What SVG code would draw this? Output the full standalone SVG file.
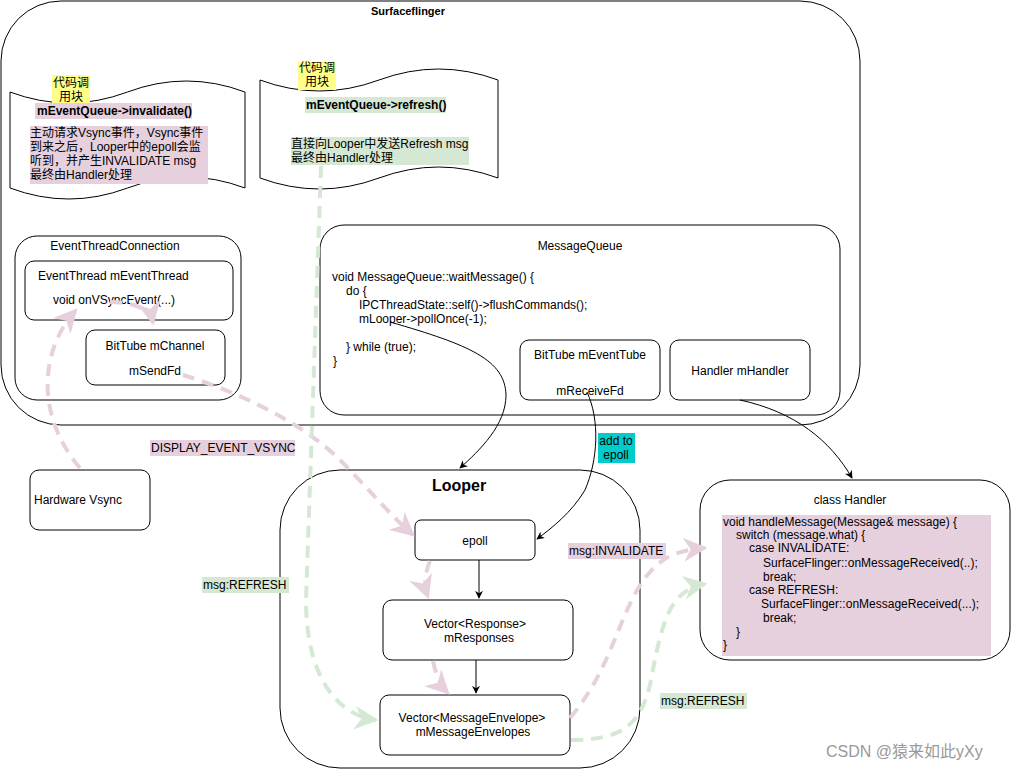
<svg xmlns="http://www.w3.org/2000/svg" width="1021" height="771" viewBox="0 0 1021 771">
<defs>
<style>
text{font-family:"Liberation Sans","Noto Sans CJK SC",sans-serif;font-size:12px;fill:#000}
.b{font-weight:bold}
.c{text-anchor:middle}
.box{fill:#fff;stroke:#000;stroke-width:1}
.cont{fill:none;stroke:#000;stroke-width:1}
.ln{fill:none;stroke:#000;stroke-width:1}
.pk{fill:none;stroke:#E6D0DE;stroke-width:4;stroke-dasharray:12 8}
.gr{fill:none;stroke:#D5E8D4;stroke-width:4;stroke-dasharray:12 8}
.pkbg{fill:#E6D0DE}
.grbg{fill:#D5E8D4}
.yb{fill:#FFFF88}
</style>
<marker id="ab" viewBox="0 0 10 10" refX="9" refY="5" markerWidth="8" markerHeight="8" orient="auto" markerUnits="userSpaceOnUse"><path d="M0,0 L10,5 L0,10 L3,5 Z" fill="#000"/></marker>
<marker id="ap" viewBox="0 0 10 10" refX="9" refY="5" markerWidth="6" markerHeight="6" orient="auto"><path d="M0,0 L10,5 L0,10 L3,5 Z" fill="#E6D0DE"/></marker>
<marker id="ag" viewBox="0 0 10 10" refX="9" refY="5" markerWidth="6" markerHeight="6" orient="auto"><path d="M0,0 L10,5 L0,10 L3,5 Z" fill="#D5E8D4"/></marker>
</defs>
<rect width="1021" height="771" fill="#fff"/>

<g id="surfaceflinger">
<rect class="cont" x="1" y="1" width="859" height="424" rx="60" ry="60"/>
<text class="c b" x="408" y="15" style="font-size:11px">Surfaceflinger</text>
</g>

<g id="tape-invalidate">
<path class="box" d="M10,92 Q68.75,114 127.5,92 Q186.25,70 245,92 L245,188 Q186.25,166 127.5,188 Q68.75,210 10,188 Z"/>
<rect class="yb" x="52" y="75" width="38" height="29"/>
<text class="c" x="71" y="87">代码调</text>
<text class="c" x="71" y="101">用块</text>
<rect class="pkbg" x="35" y="103" width="157" height="16"/>
<text class="b" x="37" y="115">mEventQueue-&gt;invalidate()</text>
<rect class="pkbg" x="30" y="126" width="178" height="58"/>
<text x="30" y="137">主动请求Vsync事件，Vsync事件</text>
<text x="30" y="151">到来之后，Looper中的epoll会监</text>
<text x="30" y="165">听到，并产生INVALIDATE msg</text>
<text x="30" y="179">最终由Handler处理</text>
</g>

<g id="tape-refresh">
<path class="box" d="M260,80 Q319.5,102 379,80 Q438.5,58 498,80 L498,178 Q438.5,156 379,178 Q319.5,200 260,178 Z"/>
<rect class="yb" x="298" y="62" width="38" height="28"/>
<text class="c" x="317" y="72">代码调</text>
<text class="c" x="317" y="86">用块</text>
<rect class="grbg" x="305" y="97" width="141" height="16"/>
<text class="b" x="306" y="109">mEventQueue-&gt;refresh()</text>
<rect class="grbg" x="291" y="137" width="178" height="28"/>
<text x="291" y="148">直接向Looper中发送Refresh msg</text>
<text x="291" y="162">最终由Handler处理</text>
</g>

<g id="eventthreadconnection">
<rect class="box" x="15" y="236" width="226" height="164" rx="22" ry="22"/>
<text class="c" x="115" y="250">EventThreadConnection</text>
</g>
<g id="eventthread">
<rect class="box" x="25" y="261" width="208" height="59" rx="9" ry="9"/>
<text x="38" y="280">EventThread mEventThread</text>
<text x="53" y="304">void onVSyncEvent(...)</text>
</g>
<g id="mchannel">
<rect class="box" x="86" y="330" width="139" height="55" rx="9" ry="9"/>
<text class="c" x="155" y="350">BitTube mChannel</text>
<text class="c" x="155" y="375">mSendFd</text>
</g>

<g id="messagequeue">
<rect class="box" x="320" y="225" width="520" height="190" rx="24" ry="24"/>
<text class="c" x="580" y="250">MessageQueue</text>
<text x="332" y="281">void MessageQueue::waitMessage() {</text>
<text x="346" y="295">do {</text>
<text x="359" y="309">IPCThreadState::self()-&gt;flushCommands();</text>
<text x="359" y="323">mLooper-&gt;pollOnce(-1);</text>
<text x="346" y="351">} while (true);</text>
<text x="333" y="365">}</text>
</g>
<g id="meventtube">
<rect class="box" x="520" y="340" width="140" height="60" rx="9" ry="9"/>
<text class="c" x="590" y="359">BitTube mEventTube</text>
<text class="c" x="590" y="395">mReceiveFd</text>
</g>
<g id="mhandler">
<rect class="box" x="670" y="340" width="140" height="60" rx="9" ry="9"/>
<text class="c" x="740" y="375">Handler mHandler</text>
</g>

<g id="hardware-vsync">
<rect class="box" x="30" y="470" width="120" height="60" rx="9" ry="9"/>
<text x="34" y="504">Hardware Vsync</text>
</g>

<g id="looper">
<rect class="cont" x="280" y="470" width="360" height="298" rx="60" ry="60"/>
<text class="c b" x="459" y="491" style="font-size:16px">Looper</text>
</g>
<g id="epoll">
<rect class="box" x="415" y="520" width="120" height="40" rx="6" ry="6"/>
<text class="c" x="475" y="545">epoll</text>
</g>
<g id="mresponses">
<rect class="box" x="383" y="600" width="190" height="60" rx="9" ry="9"/>
<text class="c" x="475" y="628">Vector&lt;Response&gt;</text>
<text class="c" x="479" y="642">mResponses</text>
</g>
<g id="mmessageenvelopes">
<rect class="box" x="380" y="695" width="190" height="60" rx="9" ry="9"/>
<text class="c" x="472" y="722">Vector&lt;MessageEnvelope&gt;</text>
<text class="c" x="473" y="736">mMessageEnvelopes</text>
</g>

<g id="class-handler">
<rect class="box" x="700" y="480" width="310" height="180" rx="30" ry="30"/>
<text class="c" x="850" y="504">class Handler</text>
<rect class="pkbg" x="722" y="515" width="269" height="141"/>
<text x="723" y="526">void handleMessage(Message&amp; message) {</text>
<text x="736" y="539">switch (message.what) {</text>
<text x="749" y="552">case INVALIDATE:</text>
<text x="763" y="567">SurfaceFlinger::onMessageReceived(..);</text>
<text x="763" y="581">break;</text>
<text x="749" y="594">case REFRESH:</text>
<text x="761" y="608">SurfaceFlinger::onMessageReceived(...);</text>
<text x="763" y="622">break;</text>
<text x="736" y="636">}</text>
<text x="723" y="649">}</text>
</g>

<g id="connectors">
<path class="ln" marker-end="url(#ab)" d="M390,322 C470,345 505,360 506,395 C506,425 480,450 460,468"/>
<path class="ln" marker-end="url(#ab)" d="M587,392 C600,420 598,460 585,490 C572,512 552,528 537,539"/>
<path class="ln" marker-end="url(#ab)" d="M740,400 C795,412 830,440 852,478"/>
<path class="ln" marker-end="url(#ab)" d="M479,560 L479,598"/>
<path class="ln" marker-end="url(#ab)" d="M476,660 L476,693"/>

<path class="pk" marker-end="url(#ap)" d="M80,468 C35,415 40,350 76,310"/>
<path class="pk" marker-end="url(#ap)" d="M110,302 C132,302 150,308 153,323"/>
<path class="pk" marker-end="url(#ap)" d="M183,375 C232,390 300,420 340,460 C370,490 390,515 413,535"/>
<path class="pk" marker-end="url(#ap)" d="M430,561 C424,575 424,586 428,597"/>
<path class="pk" marker-end="url(#ap)" d="M433,661 C436,675 440,685 448,693"/>
<path class="pk" marker-end="url(#ap)" d="M570,718 C615,665 620,605 650,572 C665,555 680,550 705,548"/>

<path class="gr" marker-end="url(#ag)" d="M321,166 L306,600 C306,680 340,716 376,720"/>
<path class="gr" marker-end="url(#ag)" d="M571,740 C622,740 640,725 650,685 C662,620 670,590 705,584"/>

<rect class="pkbg" x="150" y="440" width="145" height="16"/>
<text x="151" y="452">DISPLAY_EVENT_VSYNC</text>
<rect fill="#00CCCC" x="598" y="433" width="37" height="30"/>
<text class="c" x="616" y="445">add to</text>
<text class="c" x="616" y="459">epoll</text>
<rect class="pkbg" x="568" y="543" width="98" height="16"/>
<text x="569" y="555">msg:INVALIDATE</text>
<rect class="grbg" x="202" y="577" width="87" height="16"/>
<text x="203" y="589">msg:REFRESH</text>
<rect class="grbg" x="660" y="693" width="87" height="16"/>
<text x="661" y="705">msg:REFRESH</text>
</g>

<text x="826" y="757" style="font-size:16px;fill:#999">CSDN @猿来如此yXy</text>
</svg>
